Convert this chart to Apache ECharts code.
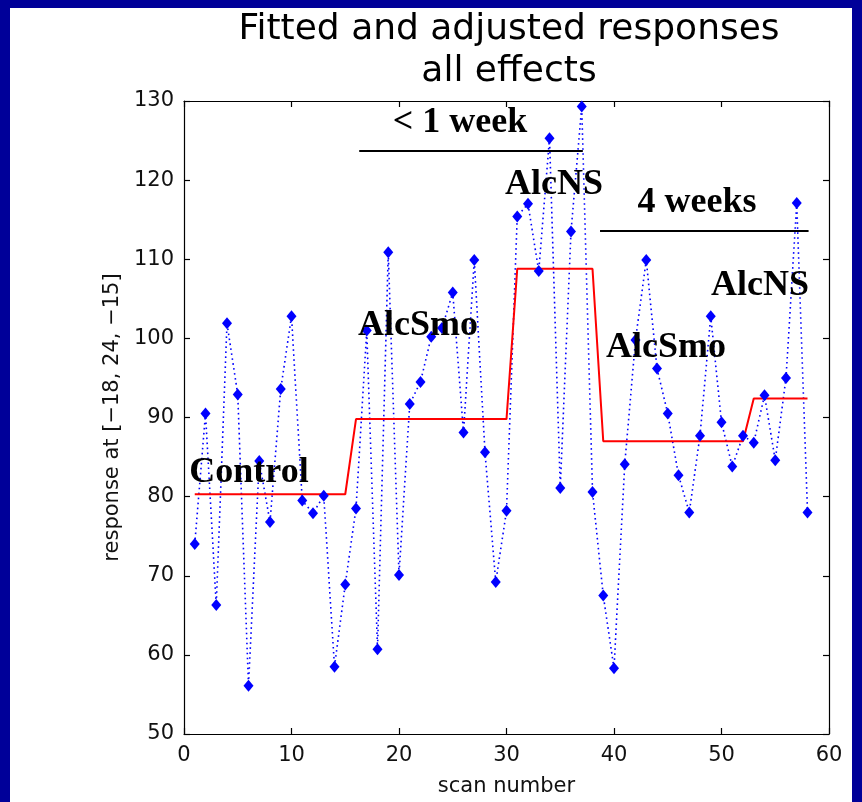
<!DOCTYPE html>
<html><head><meta charset="utf-8">
<script src="https://cdn.jsdelivr.net/npm/echarts@6/dist/echarts.min.js"></script>
<style>
html,body{margin:0;padding:0;background:#000099;width:862px;height:802px;overflow:hidden;}
#panel{position:absolute;left:10px;top:8px;width:842px;height:794px;background:#ffffff;}
#chart{position:absolute;left:0;top:0;width:862px;height:802px;}
</style></head><body>
<div id="panel"></div><div id="chart"></div>
<script>
const scans = [1,2,3,4,5,6,7,8,9,10,11,12,13,14,15,16,17,18,19,20,21,22,23,24,25,26,27,28,29,30,31,32,33,34,35,36,37,38,39,40,41,42,43,44,45,46,47,48,49,50,51,52,53,54,55,56,57,58];
const adjusted = [74.0,90.5,66.3,101.9,92.9,56.1,84.5,76.8,93.6,102.8,79.5,77.9,80.1,58.5,68.9,78.5,101.0,60.7,110.9,70.1,91.7,94.5,100.2,101.3,105.8,88.1,109.9,85.6,69.2,78.2,115.4,117.0,108.5,125.3,81.1,113.5,129.3,80.6,67.5,58.3,84.1,99.8,109.9,96.2,90.5,82.7,78.0,87.7,102.8,89.4,83.8,87.7,86.8,92.8,84.6,95.0,117.1,78.0];
const fitted = [80.3,80.3,80.3,80.3,80.3,80.3,80.3,80.3,80.3,80.3,80.3,80.3,80.3,80.3,80.3,
  89.8,89.8,89.8,89.8,89.8,89.8,89.8,89.8,89.8,89.8,89.8,89.8,89.8,89.8,89.8,
  108.8,108.8,108.8,108.8,108.8,108.8,108.8,108.8,
  87.0,87.0,87.0,87.0,87.0,87.0,87.0,87.0,87.0,87.0,87.0,87.0,87.0,87.0,
  92.4,92.4,92.4,92.4,92.4,92.4];
const xTicks = [0,10,20,30,40,50,60];
const yTicks = [50,60,70,80,90,100,110,120,130];
// annotation underlines in data coordinates: [xStart, xEnd, y]
const periodLines = [[16.3,37.1,123.7],[38.7,58.1,113.6]];

const chart = echarts.init(document.getElementById('chart'), null, {renderer:'canvas'});
const pts = scans.map((s,i)=>[s, adjusted[i]]);
const fit = scans.map((s,i)=>[s, fitted[i]]);
const axisCommon = {
  axisLine:{show:true,onZero:false,lineStyle:{color:'#000',width:1.2}},
  axisTick:{show:true,inside:true,length:6,lineStyle:{color:'#000',width:1.2}},
  splitLine:{show:false}
};
const ann = (text,x,y)=>({type:'text',x:x,y:y,z:100,style:{text:text,font:'bold 36px "Liberation Serif"',fill:'#000',textAlign:'center',textVerticalAlign:'middle'}});
chart.setOption({
  backgroundColor:'transparent',
  animation:false,
  title:{text:'Fitted and adjusted responses\nall effects',left:504,top:4,textAlign:'center',
    textStyle:{fontFamily:'DejaVu Sans',fontSize:36,fontWeight:'normal',lineHeight:42,color:'#000'}},
  grid:{left:184,right:33,top:101,bottom:65,containLabel:false},
  xAxis:[
    Object.assign({type:'value',min:0,max:60,interval:10,position:'bottom',
      name:'scan number',nameLocation:'middle',nameGap:42,
      nameTextStyle:{fontFamily:'DejaVu Sans',fontSize:21,color:'#111'},
      axisLabel:{fontFamily:'DejaVu Sans',fontSize:21,color:'#111',margin:11}},axisCommon),
    Object.assign({type:'value',min:0,max:60,interval:10,position:'top',axisLabel:{show:false}},axisCommon)
  ],
  yAxis:[
    Object.assign({type:'value',min:50,max:130,interval:10,position:'left',
      name:'response at [\u221218, 24, \u221215]',nameLocation:'middle',nameGap:52,nameRotate:90,
      nameTextStyle:{fontFamily:'DejaVu Sans',fontSize:21,color:'#111'},
      axisLabel:{fontFamily:'DejaVu Sans',fontSize:21,color:'#111',margin:10}},axisCommon),
    Object.assign({type:'value',min:50,max:130,interval:10,position:'right',axisLabel:{show:false}},axisCommon)
  ],
  series:[
    {type:'line',data:pts,showSymbol:false,symbol:'none',z:2,
      lineStyle:{color:'#0000ff',width:1.6,type:[1.6,3.4]}},
    {type:'line',data:fit,symbol:'none',z:3,lineStyle:{color:'#ff0000',width:2}},
    {type:'scatter',data:pts,symbol:'diamond',symbolSize:[10,12],z:4,itemStyle:{color:'#0000ff',opacity:1},
      markLine:{silent:true,symbol:'none',label:{show:false},lineStyle:{color:'#000',width:2,type:'solid'},
        data:periodLines.map(l=>[{coord:[l[0],l[2]]},{coord:[l[1],l[2]]}])}}
  ],
  graphic:[
    ann('< 1 week',460,123),
    ann('Control',249,473),
    ann('AlcSmo',418,326),
    ann('AlcNS',554,185),
    ann('4 weeks',697,203),
    ann('AlcSmo',666,348),
    ann('AlcNS',760,286)
  ]
});
</script></body></html>
